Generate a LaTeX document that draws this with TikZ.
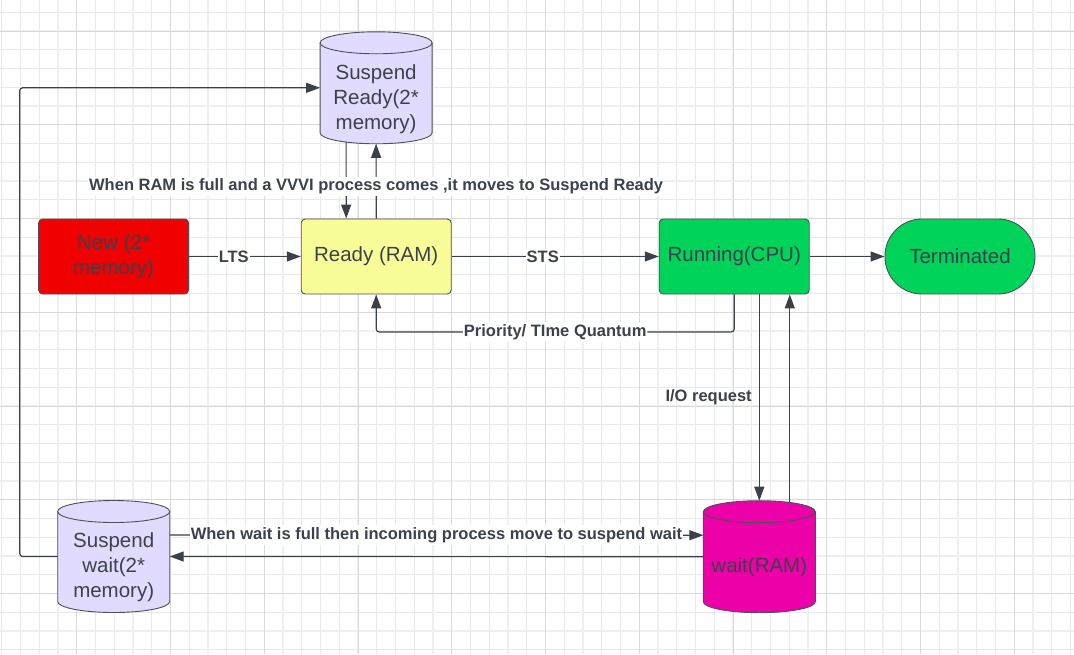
\documentclass[tikz,border=0pt]{standalone}
\usepackage{fontspec}
\setmainfont{Liberation Sans}
\usetikzlibrary{arrows.meta}
\definecolor{psline}{HTML}{3A414A}
\definecolor{psborder}{HTML}{4A515A}
\definecolor{pstext}{HTML}{3B424B}
\definecolor{psnew}{HTML}{F00000}
\definecolor{psready}{HTML}{F8FD98}
\definecolor{psrun}{HTML}{00D35A}
\definecolor{pssusp}{HTML}{E0DBFF}
\definecolor{pswait}{HTML}{EC00A8}
\definecolor{gridminor}{HTML}{E9E9E9}
\definecolor{gridfour}{HTML}{EFEFEF}
\definecolor{gridfive}{HTML}{D9D9D9}
\newcommand{\cyltext}[1]{\raisebox{-11.2pt}[\height][\depth]{\begin{tabular}{@{}c@{}}#1\end{tabular}}}

\begin{document}
\begin{tikzpicture}[x=1pt, y=-1pt,
    psbox/.style={rectangle, draw=psborder, line width=0.9pt, rounded corners=4pt, minimum width=150pt, minimum height=75pt, text=pstext, font=\fontsize{20.5}{25}\selectfont, align=center},
    pscyl/.style={rectangle, draw=none, minimum width=114pt, minimum height=114pt, inner sep=0pt, outer sep=-1pt, text=pstext, font=\fontsize{20.5}{25}\selectfont,
        path picture={
            \filldraw[fill=#1, draw=psborder, line width=0.9pt]
                ([xshift=1pt,yshift=-12pt]path picture bounding box.north west)
                -- ([xshift=1pt,yshift=12pt]path picture bounding box.south west)
                arc[start angle=180, end angle=360, x radius=56pt, y radius=11pt]
                -- ([xshift=-1pt,yshift=-12pt]path picture bounding box.north east)
                arc[start angle=0, end angle=180, x radius=56pt, y radius=11pt]
                -- cycle;
            \draw[psborder, line width=0.9pt] ([xshift=1pt,yshift=-12pt]path picture bounding box.north west)
                arc[start angle=180, end angle=360, x radius=56pt, y radius=11pt];
        }},
    conn/.style={draw=psline, line width=1.2pt, -{Triangle[length=14pt,width=10pt]}},
    lbl/.style={fill=white, text=pstext, inner xsep=1pt, inner ysep=2pt, font=\bfseries\fontsize{16.5}{19}\selectfont}]
    \fill[white] (0,0) rectangle (1074,654);
    \begin{scope}
        \clip (0,0) rectangle (1074,654);
        \foreach \k in {0,...,57} \draw[gridminor, line width=0.8pt] ({1.7+18.75*\k},0) -- ++(0,654);
        \foreach \k in {0,...,34} \draw[gridminor, line width=0.8pt] (0,{12.3+18.75*\k}) -- ++(1074,0);
        \foreach \k in {3,7,...,55} \draw[gridfour, line width=2.2pt] ({1.7+18.75*\k},0) -- ++(0,654);
        \foreach \k in {1,5,...,33} \draw[gridfour, line width=2.2pt] (0,{12.3+18.75*\k}) -- ++(1074,0);
        \foreach \k in {4,9,...,54} \draw[gridfive, line width=0.9pt] ({1.7+18.75*\k},0) -- ++(0,654);
        \foreach \k in {1,6,...,31} \draw[gridfive, line width=0.9pt] (0,{12.3+18.75*\k}) -- ++(1074,0);
    \end{scope}
    \useasboundingbox (0,0) rectangle (1074,654);

    \node[psbox, fill=psnew] (new1) at (113.6,256.5) {New (2*\\memory)};
    \node[psbox, fill=psready] (rdy1) at (376.2,256.5) {Ready (RAM)};
    \node[psbox, fill=psrun] (run1) at (734.2,256.5) {Running(CPU)};
    \node[psbox, fill=psrun, rounded corners=37pt] (term1) at (960,256.5) {Terminated};
    \node[pscyl=pssusp] (sr1) at (376.1,87.8) {\cyltext{Suspend\\Ready(2*\\memory)}};
    \node[pscyl=pssusp] (sw1) at (113.7,556.5) {\cyltext{Suspend\\wait(2*\\memory)}};
    \node[pscyl=pswait] (wt1) at (759.3,556.7) {\cyltext{wait(RAM)}};

    \draw[conn] (new1) -- node[lbl, pos=0.4] {LTS} (rdy1);
    \draw[conn] (rdy1) -- node[lbl, pos=0.44] {STS} (run1);
    \draw[conn] (run1) -- (term1);
    \draw[conn, rounded corners=3pt] (run1.south) -- ++(0,37.5) -| node[lbl, pos=0.25] {Priority/ TIme Quantum} (rdy1.south);
    \draw[conn] ([xshift=-30pt,yshift=2pt]sr1.south) -- ([xshift=-30pt]rdy1.north);
    \draw[conn] (rdy1.north) -- node[lbl, pos=0.43] {When RAM is full and a VVVI process comes ,it moves to Suspend Ready} (sr1.south);
    \draw[conn] (run1.south -| wt1.north) -- node[lbl, fill=none, anchor=east, xshift=-6pt] {I/O request} (wt1.north);
    \draw[conn] ([xshift=30.5pt,yshift=-1.6pt]wt1.north) -- ([xshift=30.5pt]wt1.north |- run1.south);
    \draw[conn] (wt1.west) -- (sw1.east);
    \draw[conn] ([yshift=21.5pt]sw1.east) -- node[lbl] {When wait is full then incoming process move to suspend wait} ([yshift=21.5pt]wt1.west);
    \draw[conn, rounded corners=3pt] (sw1.west) -- ++(-38,0) |- (sr1.west);
\end{tikzpicture}
\end{document}
